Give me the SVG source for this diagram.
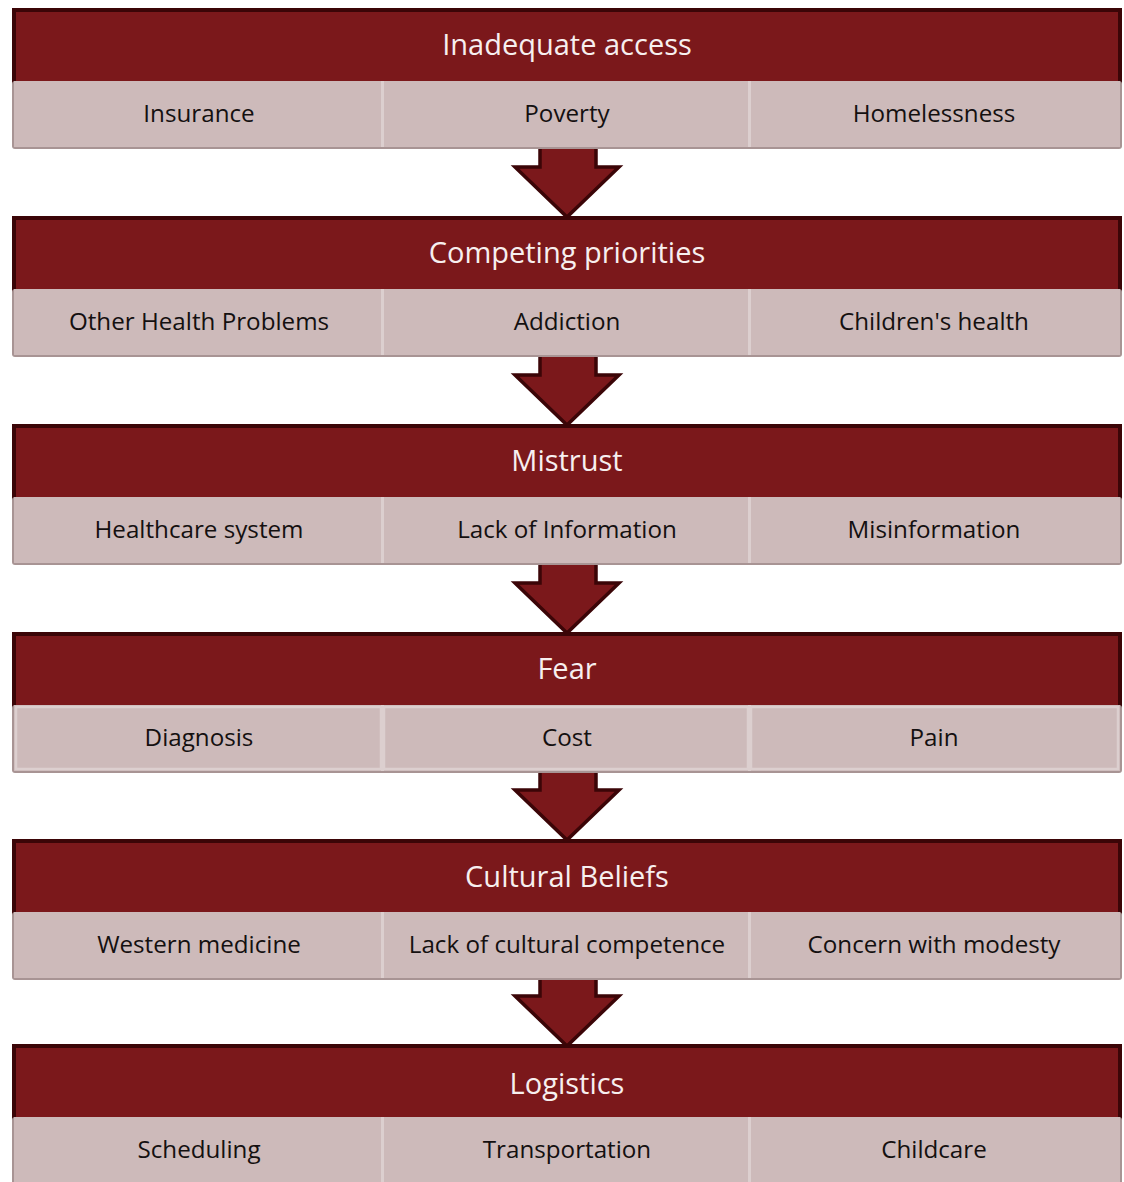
<svg xmlns="http://www.w3.org/2000/svg" width="1124" height="1182" viewBox="0 0 1124 1182">
<defs>
<style>
.hdr{fill:#7B181B;stroke:#3B0507;stroke-width:4}
.row{fill:#CDBABA}
.rowedge{fill:#A89494}
.sep{fill:#DCCFCF}
.ttl{font-family:"Open Sans","Liberation Sans",sans-serif;font-size:29px;fill:#F7EFEF;text-anchor:middle}
.sub{font-family:"Open Sans","Liberation Sans",sans-serif;font-size:24.2px;fill:#141010;text-anchor:middle}
.arr{fill:#7B181B;stroke:#3B0507;stroke-width:3.5;stroke-linejoin:miter}
.cellbox{fill:none;stroke:#DCCFCF;stroke-width:2.5}
</style>
<g id="blk">
<rect class="hdr" x="14" y="10" width="1106" height="80"/>
<rect class="rowedge" x="12" y="81" width="1110" height="68" rx="3"/>
<rect class="row" x="14" y="81" width="1106" height="66"/>
<rect class="sep" x="381" y="81" width="3" height="66"/>
<rect class="sep" x="748" y="81" width="3" height="66"/>
</g>
</defs>
<g id="connectors">
<path class="arr" d="M540,146 V167 H515 L567,217 L619,167 H596 V146"/>
<path class="arr" d="M540,354 V375 H515 L567,425 L619,375 H596 V354"/>
<path class="arr" d="M540,562 V583 H515 L567,633 L619,583 H596 V562"/>
<path class="arr" d="M540,770 V790 H515 L567,840 L619,790 H596 V770"/>
<path class="arr" d="M540,977 V996 H515 L567,1046 L619,996 H596 V977"/>
</g>
<g id="node-access">
<use href="#blk"/>
<text class="ttl" x="567" y="55">Inadequate access</text>
<text class="sub" x="199" y="122">Insurance</text>
<text class="sub" x="567" y="122">Poverty</text>
<text class="sub" x="934" y="122">Homelessness</text>
</g>
<g id="node-priorities" transform="translate(0,208)">
<use href="#blk"/>
<text class="ttl" x="567" y="55">Competing priorities</text>
<text class="sub" x="199" y="122">Other Health Problems</text>
<text class="sub" x="567" y="122">Addiction</text>
<text class="sub" x="934" y="122">Children's health</text>
</g>
<g id="node-mistrust" transform="translate(0,416)">
<use href="#blk"/>
<text class="ttl" x="567" y="55">Mistrust</text>
<text class="sub" x="199" y="122">Healthcare system</text>
<text class="sub" x="567" y="122">Lack of Information</text>
<text class="sub" x="934" y="122">Misinformation</text>
</g>
<g id="node-fear" transform="translate(0,624)">
<use href="#blk"/>
<rect class="cellbox" x="16" y="83" width="365" height="62"/>
<rect class="cellbox" x="384" y="83" width="364" height="62"/>
<rect class="cellbox" x="751" y="83" width="367" height="62"/>
<text class="ttl" x="567" y="55">Fear</text>
<text class="sub" x="199" y="122">Diagnosis</text>
<text class="sub" x="567" y="122">Cost</text>
<text class="sub" x="934" y="122">Pain</text>
</g>
<g id="node-culture" transform="translate(0,831)">
<use href="#blk"/>
<text class="ttl" x="567" y="56">Cultural Beliefs</text>
<text class="sub" x="199" y="122">Western medicine</text>
<text class="sub" x="567" y="122">Lack of cultural competence</text>
<text class="sub" x="934" y="122">Concern with modesty</text>
</g>
<g id="node-logistics" transform="translate(0,1036)">
<use href="#blk"/>
<text class="ttl" x="567" y="58">Logistics</text>
<text class="sub" x="199" y="122">Scheduling</text>
<text class="sub" x="567" y="122">Transportation</text>
<text class="sub" x="934" y="122">Childcare</text>
</g>
</svg>
